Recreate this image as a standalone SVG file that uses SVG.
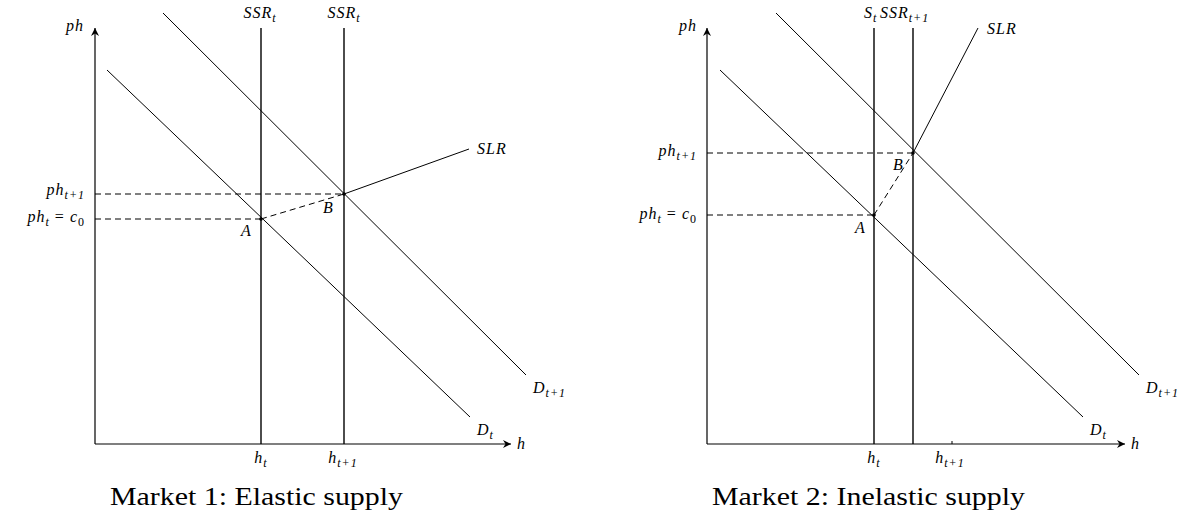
<svg xmlns="http://www.w3.org/2000/svg" width="1199" height="525" viewBox="0 0 1199 525">
<defs>
<marker id="arr" markerWidth="10" markerHeight="10" refX="8" refY="4" orient="auto" markerUnits="userSpaceOnUse">
<path d="M0,0 L8,4 L0,8 L2.5,4 Z" fill="#000"/>
</marker>
<style>
.ax{stroke:#000;stroke-width:1.2;fill:none}
.ln{stroke:#000;stroke-width:1;fill:none}
.ss{stroke:#000;stroke-width:1.4;fill:none}
.ds{stroke:#000;stroke-width:1;fill:none;stroke-dasharray:6 4}
.m{font-family:"Liberation Serif",serif;font-style:italic;font-size:16px;fill:#000;letter-spacing:1px}
.s{font-size:12px}
.up{font-style:normal}
.e{text-anchor:end}
.c{text-anchor:middle}
.cap{font-family:"Liberation Serif",serif;font-size:25px;fill:#000}
</style>
</defs>
<rect width="1199" height="525" fill="#fff"/>

<g id="market1">
<g id="axes1">
<line class="ax" x1="95" y1="444" x2="95" y2="28" marker-end="url(#arr)"/>
<line class="ax" x1="95" y1="444" x2="511" y2="444" marker-end="url(#arr)"/>
<text class="m" x="66" y="31">ph</text>
<text class="m" x="517" y="449">h</text>
</g>
<g id="connectors1">
<line class="ln" x1="107" y1="70" x2="470" y2="417"/>
<line class="ln" x1="163" y1="13" x2="526" y2="375"/>
<line class="ss" x1="261" y1="28" x2="261" y2="444"/>
<line class="ss" x1="344" y1="28" x2="344" y2="444"/>
<line class="ds" x1="95" y1="194" x2="344" y2="194"/>
<line class="ds" x1="95" y1="219" x2="261" y2="219"/>
<line class="ds" x1="261" y1="219" x2="344" y2="194"/>
<line class="ln" x1="344" y1="194" x2="469" y2="149"/>
<circle cx="261" cy="219" r="1.8" fill="#000"/>
<circle cx="344" cy="194" r="1.8" fill="#000"/>
</g>
<g id="labels1">
<text class="m c" x="260" y="18">SSR<tspan class="s" dy="4">t</tspan></text>
<text class="m c" x="344" y="18">SSR<tspan class="s" dy="4">t</tspan></text>
<text class="m" x="477" y="154">SLR</text>
<text class="m e" x="85" y="195">ph<tspan class="s" dy="4">t+1</tspan></text>
<text class="m e" x="85" y="222">ph<tspan class="s" dy="4">t</tspan><tspan class="up" dy="-4"> = </tspan>c<tspan class="s up" dy="4">0</tspan></text>
<text class="m" x="241" y="236">A</text>
<text class="m" x="323" y="213">B</text>
<text class="m c" x="261" y="463">h<tspan class="s" dy="4">t</tspan></text>
<text class="m c" x="343" y="463">h<tspan class="s" dy="4">t+1</tspan></text>
<text class="m" x="477" y="435">D<tspan class="s" dy="4">t</tspan></text>
<text class="m" x="533" y="393">D<tspan class="s" dy="4">t+1</tspan></text>
</g>
<text class="cap" x="110" y="505" textLength="293" lengthAdjust="spacingAndGlyphs">Market 1: Elastic supply</text>
</g>

<g id="market2">
<g id="axes2">
<line class="ax" x1="707" y1="444" x2="707" y2="28" marker-end="url(#arr)"/>
<line class="ax" x1="707" y1="444" x2="1125" y2="444" marker-end="url(#arr)"/>
<line class="ln" x1="952" y1="444" x2="952" y2="441" stroke-width="0.6"/>
<text class="m" x="679" y="31">ph</text>
<text class="m" x="1131" y="449">h</text>
</g>
<g id="connectors2">
<line class="ln" x1="720" y1="70" x2="1083" y2="417"/>
<line class="ln" x1="776" y1="13" x2="1139" y2="375"/>
<line class="ss" x1="874" y1="28" x2="874" y2="444"/>
<line class="ss" x1="913" y1="28" x2="913" y2="444"/>
<line class="ds" x1="707" y1="153" x2="913" y2="153"/>
<line class="ds" x1="707" y1="215" x2="874" y2="215"/>
<line class="ds" x1="874" y1="215" x2="913" y2="153"/>
<line class="ln" x1="913" y1="153" x2="978" y2="28"/>
<circle cx="874" cy="215" r="1.8" fill="#000"/>
<circle cx="913" cy="153" r="1.8" fill="#000"/>
</g>
<g id="labels2">
<text class="m" x="864" y="18">S<tspan class="s" dy="4">t</tspan></text>
<text class="m" x="880" y="18">SSR<tspan class="s" dy="4">t+1</tspan></text>
<text class="m" x="987" y="34">SLR</text>
<text class="m e" x="697" y="156">ph<tspan class="s" dy="4">t+1</tspan></text>
<text class="m e" x="697" y="219">ph<tspan class="s" dy="4">t</tspan><tspan class="up" dy="-4"> = </tspan>c<tspan class="s up" dy="4">0</tspan></text>
<text class="m" x="855" y="233">A</text>
<text class="m" x="893" y="170">B</text>
<text class="m c" x="874" y="463">h<tspan class="s" dy="4">t</tspan></text>
<text class="m c" x="950" y="463">h<tspan class="s" dy="4">t+1</tspan></text>
<text class="m" x="1090" y="435">D<tspan class="s" dy="4">t</tspan></text>
<text class="m" x="1146" y="393">D<tspan class="s" dy="4">t+1</tspan></text>
</g>
<text class="cap" x="712" y="505" textLength="313" lengthAdjust="spacingAndGlyphs">Market 2: Inelastic supply</text>
</g>
</svg>
